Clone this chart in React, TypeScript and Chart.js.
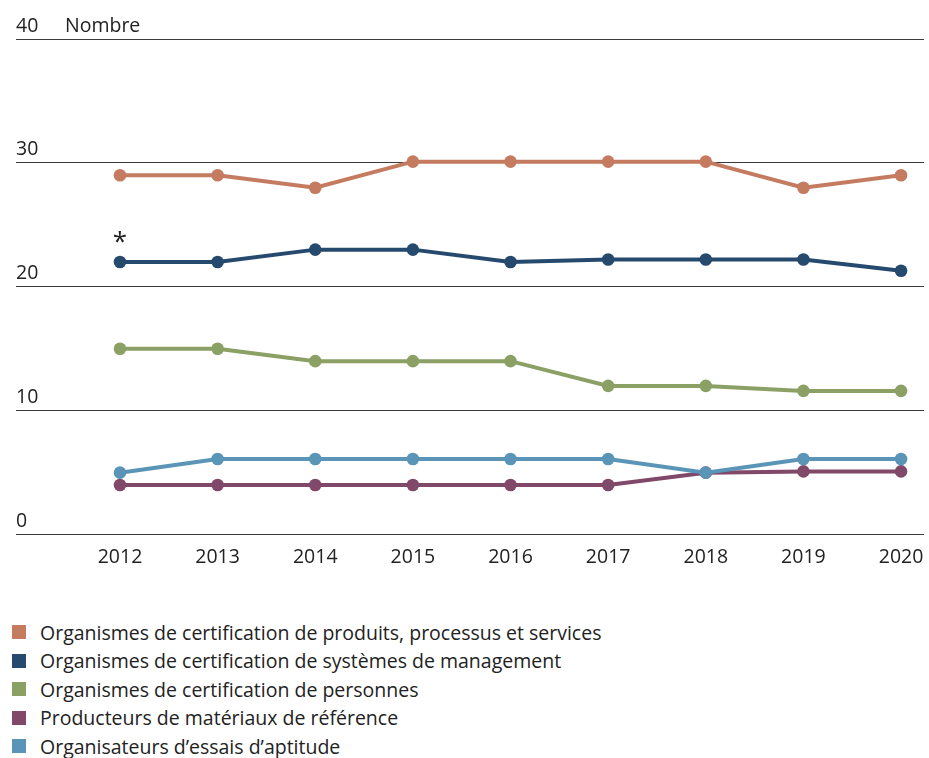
import React, { useEffect, useRef } from 'react';
import { Chart, registerables } from 'chart.js';

Chart.register(...registerables);

const years = [2012, 2013, 2014, 2015, 2016, 2017, 2018, 2019, 2020];
const seriesNames = [
  'Organismes de certification de produits, processus et services',
  'Organismes de certification de systèmes de management',
  'Organismes de certification de personnes',
  'Producteurs de matériaux de référence',
  "Organisateurs d\u2019essais d\u2019aptitude",
];
const produits = [29, 29, 28, 30.1, 30.1, 30.1, 30.1, 28, 29];
const systemes = [22, 22, 23, 23, 22, 22.2, 22.2, 22.2, 21.3];
const personnes = [15, 15, 14, 14, 14, 12, 12, 11.6, 11.6];
const materiaux = [4, 4, 4, 4, 4, 4, 5, 5.1, 5.1];
const essais = [5, 6.1, 6.1, 6.1, 6.1, 6.1, 5, 6.1, 6.1];
const seriesValues = [produits, systemes, personnes, materiaux, essais];
const seriesColors = ['#C47B60', '#264A6E', '#8BA065', '#804869', '#5A95B7'];
const seriesOrder = [1, 1, 1, 2, 0];
const yTicks = [0, 10, 20, 30, 40];
const yUnit = 'Nombre';
const noteMark = '*';
const noteSeries = 1;

const FONT = '"Open Sans", "DejaVu Sans", sans-serif';
const TEXT = '#222222';
const FS = 19.5;

export default function App() {
  const ref = useRef<HTMLCanvasElement | null>(null);

  useEffect(() => {
    if (!ref.current) return;
    const annot = {
      id: 'annot',
      afterDraw(chart: any) {
        const ctx = chart.ctx;
        const y = chart.scales.y;
        ctx.save();
        ctx.fillStyle = TEXT;
        ctx.font = `${FS}px ${FONT}`;
        ctx.textAlign = 'left';
        ctx.textBaseline = 'middle';
        ctx.fillText(yUnit, chart.chartArea.left + 49, y.getPixelForValue(yTicks[yTicks.length - 1]) - 13);
        const pt = chart.getDatasetMeta(noteSeries).data[0];
        ctx.font = `26px ${FONT}`;
        ctx.textAlign = 'center';
        ctx.textBaseline = 'alphabetic';
        ctx.fillText(noteMark, pt.x, pt.y - 12);
        ctx.restore();
      },
    };
    const chart = new Chart(ref.current, {
      type: 'line',
      data: {
        datasets: seriesValues.map((vals, i) => ({
          label: seriesNames[i],
          data: years.map((yr, j) => ({ x: yr, y: vals[j] })),
          borderColor: seriesColors[i],
          backgroundColor: seriesColors[i],
          pointBackgroundColor: seriesColors[i],
          pointBorderWidth: 0,
          pointRadius: 6.3,
          borderWidth: 4,
          tension: 0,
          order: seriesOrder[i],
        })),
      },
      options: {
        animation: false,
        responsive: true,
        maintainAspectRatio: false,
        layout: { autoPadding: false, padding: { left: 16, right: 5, top: 39, bottom: 0 } },
        plugins: { legend: { display: false }, tooltip: { enabled: false } },
        scales: {
          x: {
            type: 'linear',
            min: 2010.935,
            max: 2020.235,
            grid: { display: false },
            border: { display: false },
            afterBuildTicks: (s: any) => {
              s.ticks = years.map((v) => ({ value: v }));
            },
            ticks: {
              autoSkip: false,
              maxRotation: 0,
              padding: 3,
              color: TEXT,
              font: { family: FONT, size: FS },
              callback: (v: any) => String(v),
            },
          },
          y: {
            min: 0,
            max: 40,
            afterBuildTicks: (s: any) => {
              s.ticks = yTicks.map((v) => ({ value: v }));
            },
            grid: { color: '#3a3a3a', lineWidth: 1, drawTicks: false },
            border: { display: false },
            ticks: {
              mirror: true,
              padding: 0,
              labelOffset: -13,
              color: TEXT,
              font: { family: FONT, size: FS },
            },
          },
        },
      },
      plugins: [annot],
    } as any);
    return () => chart.destroy();
  }, []);

  return (
    <div style={{ position: 'absolute', left: 0, top: 0, width: 929, height: 758, overflow: 'hidden', background: '#fff', fontFamily: FONT }}>
      <div style={{ position: 'absolute', left: 0, top: 0, width: 929, height: 572 }}>
        <canvas ref={ref} />
      </div>
      <div style={{ position: 'absolute', left: 0, top: 618, fontSize: FS, color: TEXT }}>
        {seriesNames.map((n, i) => (
          <div key={n} style={{ display: 'flex', alignItems: 'center', height: 28.5, whiteSpace: 'nowrap' }}>
            <span style={{ display: 'inline-block', width: 14, height: 14, background: seriesColors[i], marginLeft: 12, marginRight: 14 }} />
            <span>{n}</span>
          </div>
        ))}
      </div>
    </div>
  );
}
